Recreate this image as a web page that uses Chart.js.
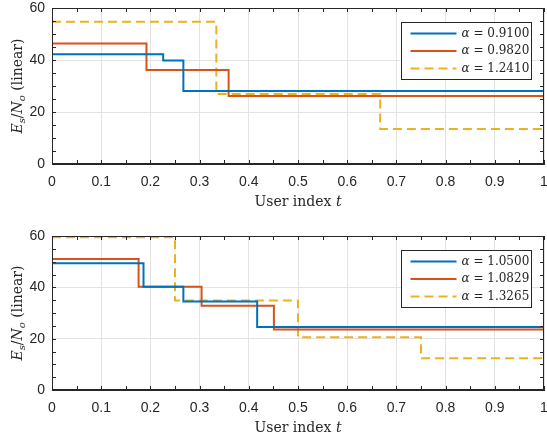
<!DOCTYPE html>
<html>
<head>
<meta charset="utf-8">
<script src="https://cdn.jsdelivr.net/npm/chart.js@4.4.0/dist/chart.umd.min.js"></script>
<style>
body{margin:0;background:#fff;width:547px;height:437px;overflow:hidden}
.box{position:absolute;left:0;width:547px}
</style>
</head>
<body>
<div class="box" style="top:0;height:218px"><canvas id="chartTop"></canvas></div>
<div class="box" style="top:218px;height:219px"><canvas id="chartBottom"></canvas></div>
<script>
// valores (t = inicio de cada degrau, ultimo ponto em t = 1)
var topT1 = [0, 0.226, 0.267, 1];
var topV1 = [42.2, 39.8, 28.1, 28.1];
var topT2 = [0, 0.192, 0.359, 1];
var topV2 = [46.3, 36.2, 26.2, 26.2];
var topT3 = [0, 0.334, 0.667, 1];
var topV3 = [54.7, 26.9, 13.5, 13.5];
var topAlphas = ['0.9100', '0.9820', '1.2410'];

var botT1 = [0, 0.186, 0.267, 0.417, 1];
var botV1 = [49.4, 40.2, 34.5, 24.5, 24.5];
var botT2 = [0, 0.176, 0.304, 0.451, 1];
var botV2 = [51, 40.2, 32.8, 23.6, 23.6];
var botT3 = [0, 0.25, 0.5, 0.75, 1];
var botV3 = [59.5, 34.9, 20.6, 12.4, 12.4];
var botAlphas = ['1.0500', '1.0829', '1.3265'];

var xTicks = [0, 0.1, 0.2, 0.3, 0.4, 0.5, 0.6, 0.7, 0.8, 0.9, 1];
var yTicks = [0, 20, 40, 60];

var cores = ['#0072BD', '#D95319', '#EDB120'];
var tinta = '#262626';
var serif = 'DejaVu Serif';

function pontos(ts, vs) {
    return ts.map(function(t, i){ return {x: t, y: vs[i]}; });
}

// moldura, ticks menores, titulos e legenda no estilo matlab
var estilo = {
    id: 'estilo',
    afterDraw: function(chart, args, opts) {
        var ctx = chart.ctx;
        var a = chart.chartArea;
        var sx = chart.scales.x, sy = chart.scales.y;
        ctx.save();
        ctx.strokeStyle = tinta;
        ctx.lineWidth = 1;
        ctx.strokeRect(Math.round(a.left) + 0.5, Math.round(a.top) + 0.5,
            Math.round(a.right - a.left) - 1, Math.round(a.bottom - a.top) - 1);
        ctx.beginPath();
        for (var i = 0; i <= 20; i++) {
            var px = Math.round(sx.getPixelForValue(i * 0.05)) + 0.5;
            ctx.moveTo(px, a.bottom); ctx.lineTo(px, a.bottom - 4);
            ctx.moveTo(px, a.top); ctx.lineTo(px, a.top + 4);
        }
        for (var j = 0; j <= 12; j++) {
            var py = Math.round(sy.getPixelForValue(j * 5)) + 0.5;
            ctx.moveTo(a.left, py); ctx.lineTo(a.left + 4, py);
            ctx.moveTo(a.right, py); ctx.lineTo(a.right - 4, py);
        }
        ctx.stroke();

        // titulo do eixo x
        ctx.fillStyle = tinta;
        ctx.textBaseline = 'alphabetic';
        var cx = (a.left + a.right) / 2;
        ctx.font = '14px "' + serif + '"';
        var w1 = ctx.measureText('User index ').width;
        ctx.font = 'italic 14px "' + serif + '"';
        var w2 = ctx.measureText('t').width;
        var x0 = cx - (w1 + w2) / 2;
        ctx.font = '14px "' + serif + '"';
        ctx.fillText('User index ', x0, opts.xTitleY);
        ctx.font = 'italic 14px "' + serif + '"';
        ctx.fillText('t', x0 + w1, opts.xTitleY);

        // titulo do eixo y
        var partes = [
            ['E', 'italic 14px', 0], ['s', 'italic 10px', 3], ['/', '14px', 0],
            ['N', 'italic 14px', 0], ['o', 'italic 10px', 3], [' (linear)', '14px', 0]
        ];
        var total = 0;
        partes.forEach(function(p){ ctx.font = p[1] + ' "' + serif + '"'; p.push(ctx.measureText(p[0]).width); total += p[3]; });
        ctx.translate(opts.yTitleX, (a.top + a.bottom) / 2);
        ctx.rotate(-Math.PI / 2);
        var pos = -total / 2;
        partes.forEach(function(p){
            ctx.font = p[1] + ' "' + serif + '"';
            ctx.fillText(p[0], pos, p[2]);
            pos += p[3];
        });
        ctx.setTransform(1, 0, 0, 1, 0, 0);

        // legenda
        var bw = 130, bh = 57;
        var bx = Math.round(a.right - 13 - bw) + 0.5, by = Math.round(a.top + 14) + 0.5;
        ctx.fillStyle = '#fff';
        ctx.fillRect(bx, by, bw, bh);
        ctx.strokeStyle = tinta;
        ctx.strokeRect(bx, by, bw, bh);
        chart.data.datasets.forEach(function(ds, k){
            var ly = by + 11 + k * 17.5;
            ctx.beginPath();
            ctx.strokeStyle = ds.borderColor;
            ctx.lineWidth = 2;
            ctx.setLineDash(ds.borderDash || []);
            ctx.moveTo(bx + 9, ly); ctx.lineTo(bx + 55, ly);
            ctx.stroke();
            ctx.setLineDash([]);
            ctx.fillStyle = tinta;
            ctx.textBaseline = 'middle';
            ctx.font = 'italic 12px "' + serif + '"';
            ctx.fillText('\u03b1', bx + 60, ly);
            var wa = ctx.measureText('\u03b1').width;
            ctx.font = '12px "' + serif + '"';
            ctx.fillText(' = ' + opts.alphas[k], bx + 60 + wa, ly);
        });
        ctx.restore();
    }
};

function grafico(id, series, alphas, padTop, alturaX, xTitleY) {
    var ctx = document.getElementById(id).getContext('2d');
    return new Chart(ctx, {
        type: 'line',
        data: {
            datasets: series.map(function(s, k){
                return {
                    label: 'alpha = ' + alphas[k],
                    data: pontos(s[0], s[1]),
                    stepped: true,
                    borderColor: cores[k],
                    borderWidth: 2,
                    borderDash: k == 2 ? [9, 5] : [],
                    pointRadius: 0,
                    fill: false
                };
            })
        },
        options: {
            responsive: true,
            maintainAspectRatio: false,
            animation: false,
            layout: {padding: {top: padTop, right: 3, left: 0, bottom: 0}},
            plugins: {
                legend: {display: false},
                tooltip: {enabled: false},
                estilo: {alphas: alphas, xTitleY: xTitleY, yTitleX: 22}
            },
            scales: {
                x: {
                    type: 'linear', min: 0, max: 1,
                    afterBuildTicks: function(s){ s.ticks = xTicks.map(function(v){ return {value: v}; }); },
                    afterFit: function(s){ s.height = alturaX; s.paddingLeft = 0; s.paddingRight = 0; },
                    ticks: {
                        color: tinta, padding: 10,
                        font: {family: 'Liberation Sans', size: 14},
                        maxRotation: 0,
                        callback: function(v){ return (v === 0 || v === 1) ? String(v) : v.toFixed(1); }
                    },
                    grid: {color: '#e3e3e3', drawTicks: false},
                    border: {color: tinta}
                },
                y: {
                    min: 0, max: 60,
                    afterBuildTicks: function(s){ s.ticks = yTicks.map(function(v){ return {value: v}; }); },
                    afterFit: function(s){ s.width = 52; s.paddingTop = 0; s.paddingBottom = 0; },
                    ticks: {
                        color: tinta, padding: 7,
                        font: {family: 'Liberation Sans', size: 14}
                    },
                    grid: {color: '#e3e3e3', drawTicks: false},
                    border: {color: tinta}
                }
            }
        },
        plugins: [estilo]
    });
}

grafico('chartTop', [[topT1, topV1], [topT2, topV2], [topT3, topV3]], topAlphas, 8, 54, 206);
grafico('chartBottom', [[botT1, botV1], [botT2, botV2], [botT3, botV3]], botAlphas, 18, 47, 214);
</script>
</body>
</html>
